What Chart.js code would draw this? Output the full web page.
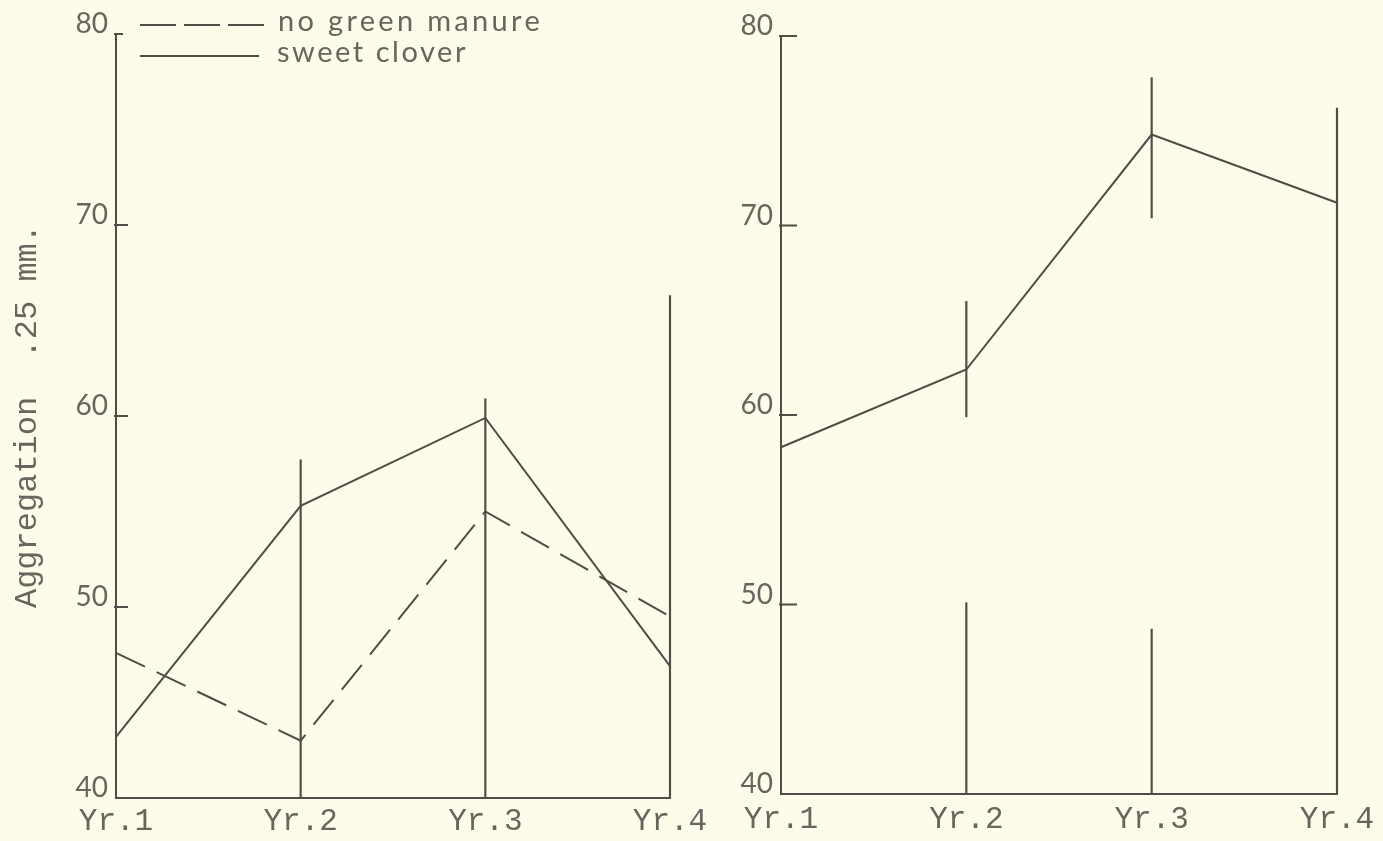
<!DOCTYPE html>
<html><head><meta charset="utf-8">
<script src="https://cdn.jsdelivr.net/npm/chart.js@4.4.0/dist/chart.umd.min.js"></script>
<style>
html,body{margin:0;padding:0;background:#fdfbea;}
body{width:1383px;height:841px;position:relative;overflow:hidden;}
#c1{position:absolute;left:0;top:0;}
#c2{position:absolute;left:700px;top:0;}
</style></head><body>
<canvas id="c1" width="740" height="841"></canvas>
<canvas id="c2" width="683" height="841"></canvas>
<script>
// ---- data ----
const categories = ['Yr.1', 'Yr.2', 'Yr.3', 'Yr.4'];
const yTickValues = [40, 50, 60, 70, 80];
const legendLabels = ['no green manure', 'sweet clover'];
const yTitle = 'Aggregation  .25 mm.';
const leftNoGreenManure = [47.6, 43.0, 55.0, 49.5];
const leftSweetClover = [43.2, 55.3, 59.9, 46.9];
const leftRanges = [null, [40, 57.7], [40, 60.9], [40, 66.3]];
const rightSweetClover = [58.3, 62.4, 74.8, 71.2];
const rightRangesUpper = [null, [59.9, 66.0], [70.4, 77.8], [40, 76.2]];
const rightRangesLower = [null, [40, 50.1], [40, 48.7], null];

const INK = '#4f4e46';
const TXT = '#67665e';
const MONO = '"Liberation Mono", "Courier New", monospace';
const SANS = 'Lato, "Noto Sans", sans-serif';

const innerTicks = {
  id: 'innerTicks',
  afterDraw(chart, args, opts) {
    const y = chart.scales.y, ctx = chart.ctx;
    ctx.save();
    ctx.strokeStyle = INK; ctx.lineWidth = 2;
    y.ticks.forEach(t => {
      if (t.value === y.min) return;
      const py = y.getPixelForValue(t.value);
      ctx.beginPath();
      ctx.moveTo(y.right - 2, py);
      ctx.lineTo(y.right + (t.value === y.max ? opts.topLen : opts.len), py);
      ctx.stroke();
    });
    ctx.restore();
  }
};

const paperLegend = {
  id: 'paperLegend',
  afterDraw(chart, args, opts) {
    if (!opts.items) return;
    const ctx = chart.ctx;
    ctx.save();
    opts.items.forEach(it => {
      const ds = chart.data.datasets[it.ds];
      ctx.strokeStyle = ds.borderColor; ctx.lineWidth = ds.borderWidth;
      ctx.setLineDash(it.dash || []);
      ctx.beginPath(); ctx.moveTo(it.x0, it.y); ctx.lineTo(it.x1, it.y); ctx.stroke();
      ctx.setLineDash([]);
      ctx.font = opts.font;
      ctx.letterSpacing = '0px';
      const w0 = ctx.measureText(ds.label).width;
      const sp = Math.max(0, (it.w - w0) / ds.label.length);
      ctx.letterSpacing = sp.toFixed(2) + 'px';
      ctx.fillStyle = TXT; ctx.textBaseline = 'middle'; ctx.textAlign = 'left';
      ctx.fillText(ds.label, it.tx, it.ty);
    });
    ctx.restore();
  }
};

function makeOptions(cfg) {
  return {
    responsive: false, animation: false,
    layout: { padding: { top: cfg.top, right: cfg.right, left: 0, bottom: 0 } },
    plugins: {
      legend: { display: false }, tooltip: { enabled: false },
      innerTicks: { len: cfg.tickLen, topLen: cfg.topLen },
      paperLegend: cfg.legend || {}
    },
    scales: {
      x: {
        type: 'category', offset: false,
        grid: { display: false, drawTicks: false },
        border: { display: true, color: INK, width: 2 },
        ticks: { color: TXT, font: { family: MONO, size: 31 }, padding: cfg.xPad, maxRotation: 0, autoSkip: false },
        afterFit: s => { s.height = cfg.xH; }
      },
      y: {
        min: 40, max: 80,
        afterBuildTicks: s => { s.ticks = yTickValues.map(v => ({ value: v })); },
        grid: { display: false, drawTicks: false },
        border: { display: true, color: INK, width: 2 },
        ticks: { color: TXT, font: { family: SANS, size: 28 }, padding: 8, labelOffset: -10 },
        title: { display: !!cfg.title, text: cfg.title || '', color: TXT, font: { family: MONO, size: 32 }, padding: { top: 8, bottom: 0 } },
        afterFit: s => { s.width = cfg.yW; }
      }
    }
  };
}

new Chart(document.getElementById('c1'), {
  type: 'line',
  data: {
    labels: categories,
    datasets: [
      { type: 'line', label: legendLabels[0], data: leftNoGreenManure, borderColor: INK, borderWidth: 2, borderDash: [32, 13], pointRadius: 0, tension: 0, clip: false },
      { type: 'line', label: legendLabels[1], data: leftSweetClover, borderColor: INK, borderWidth: 2, pointRadius: 0, tension: 0, clip: false },
      { type: 'bar', label: 'range', data: leftRanges, backgroundColor: INK, borderWidth: 0, barThickness: 1.5, grouped: false, clip: false }
    ]
  },
  options: makeOptions({
    top: 34, right: 70, yW: 116, xH: 43, xPad: 5, tickLen: 12, topLen: 7, title: yTitle,
    legend: {
      font: '29px ' + SANS,
      items: [
        { ds: 0, dash: [36, 8], x0: 140, x1: 268, y: 25, tx: 278, ty: 22, w: 265 },
        { ds: 1, x0: 140, x1: 259, y: 56, tx: 277, ty: 53, w: 191 }
      ]
    }
  }),
  plugins: [innerTicks, paperLegend]
});

new Chart(document.getElementById('c2'), {
  type: 'line',
  data: {
    labels: categories,
    datasets: [
      { type: 'line', label: legendLabels[1], data: rightSweetClover, borderColor: INK, borderWidth: 2, pointRadius: 0, tension: 0, clip: false },
      { type: 'bar', label: 'range upper', data: rightRangesUpper, backgroundColor: INK, borderWidth: 0, barThickness: 1.5, grouped: false, clip: false },
      { type: 'bar', label: 'range lower', data: rightRangesLower, backgroundColor: INK, borderWidth: 0, barThickness: 1.5, grouped: false, clip: false }
    ]
  },
  options: makeOptions({ top: 36, right: 46, yW: 81, xH: 47, xPad: 7, tickLen: 16, topLen: 16 }),
  plugins: [innerTicks]
});
</script>
</body></html>
